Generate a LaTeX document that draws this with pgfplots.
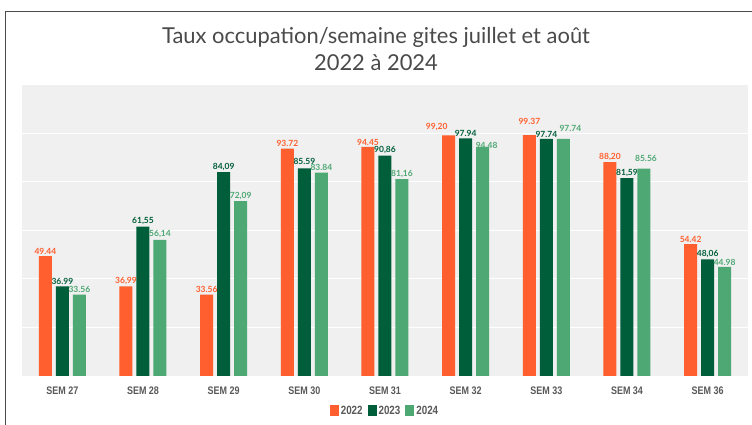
\documentclass[border=0pt]{standalone}
\usepackage{pgfplots}
\usepackage{pgfplotstable}
\pgfplotsset{compat=1.18}
\usepackage{fontspec}
\setmainfont{Lato}
\newfontfamily\narrowfont[FakeStretch=0.82]{Liberation Sans}
\definecolor{c22}{HTML}{FF5F2E}
\definecolor{c23}{HTML}{005E3A}
\definecolor{c24}{HTML}{4EA874}
\definecolor{bg}{HTML}{F0F0F0}
\definecolor{txt}{HTML}{595959}
\definecolor{ttl}{HTML}{4A4A4A}
\pgfplotstableread{
x y lab dx dy
0 49.44 49.44 0 0
1 36.99 36,99 0 0
2 33.56 33.56 0 0
3 93.72 93.72 0 0
4 94.45 94.45 0 0
5 99.20 99,20 -12 3
6 99.37 99.37 0 9
7 88.20 88,20 0 0
8 54.42 54.42 0 0
}\tA
\pgfplotstableread{
x y lab dx dy
0 36.99 36.99 0 0
1 61.55 61,55 0 0
2 84.09 84,09 0 0
3 85.59 85.59 0 2
4 90.86 90,86 0 0
5 97.94 97.94 0 0
6 97.74 97.74 0 0
7 81.59 81,59 0 0
8 48.06 48,06 0 0
}\tB
\pgfplotstableread{
x y lab dx dy
0 33.56 33.56 0 0
1 56.14 56,14 0 0
2 72.09 72,09 0 0
3 83.84 83.84 0 0
4 81.16 81,16 0 0
5 94.48 94.48 4 -3
6 97.74 97.74 7 6
7 85.56 85.56 2 5
8 44.98 44.98 0 0
}\tC
\begin{document}
\begin{tikzpicture}
\useasboundingbox (0,0) rectangle (752bp,425bp);
\fill[white] (0,0) rectangle (752bp,425bp);
\draw[line width=1bp, color=black!70] (5bp,0) -- (5bp,413bp) -- (752bp,413bp);
\node[font=\fontsize{22}{24}\selectfont, text=ttl] at (376bp,388bp) {Taux occupation/semaine gites juillet et août};
\node[font=\fontsize{22}{24}\selectfont, text=ttl] at (376bp,362bp) {2022 à 2024};
\begin{axis}[
 at={(22bp,49bp)}, anchor=south west,
 scale only axis, width=726bp, height=291bp,
 xmin=-0.5, xmax=8.5, ymin=0, ymax=120,
 axis background/.style={fill=bg},
 axis line style={draw=none},
 ytick={20,40,60,80,100}, yticklabels={}, ymajorgrids,
 grid style={white, line width=1bp},
 major tick length=0,
 xtick={0,...,8},
 xticklabels={SEM 27,SEM 28,SEM 29,SEM 30,SEM 31,SEM 32,SEM 33,SEM 34,SEM 36},
 xticklabel style={font=\narrowfont\bfseries\fontsize{11}{12}\selectfont, text=txt, yshift=-7bp},
 ybar=4bp, bar width=13bp,
 nodes near coords, point meta=explicit symbolic,
 visualization depends on={\thisrow{dx} \as \dx},
 visualization depends on={\thisrow{dy} \as \dy},
 every node near coord/.append style={font=\bfseries\fontsize{8.5}{9}\selectfont, inner sep=1.5bp, xshift=\dx bp, yshift=\dy bp},
 legend columns=3,
 legend style={at={(0.5,-0.12)}, anchor=center, draw=none, fill=none,
   font=\narrowfont\bfseries\fontsize{12}{14}\selectfont, text=txt,
   /tikz/every even column/.append style={column sep=3bp}},
 legend image code/.code={\draw[#1, draw=none] (0bp,-5bp) rectangle (9bp,6bp);},
]
\addplot[fill=c22, draw=none, every node near coord/.append style={text=c22}] table[x=x,y=y,meta=lab] {\tA};
\addplot[fill=c23, draw=none, every node near coord/.append style={text=c23}] table[x=x,y=y,meta=lab] {\tB};
\addplot[fill=c24, draw=none, every node near coord/.append style={text=c24}] table[x=x,y=y,meta=lab] {\tC};
\legend{2022,2023,2024}
\end{axis}
\end{tikzpicture}
\end{document}
